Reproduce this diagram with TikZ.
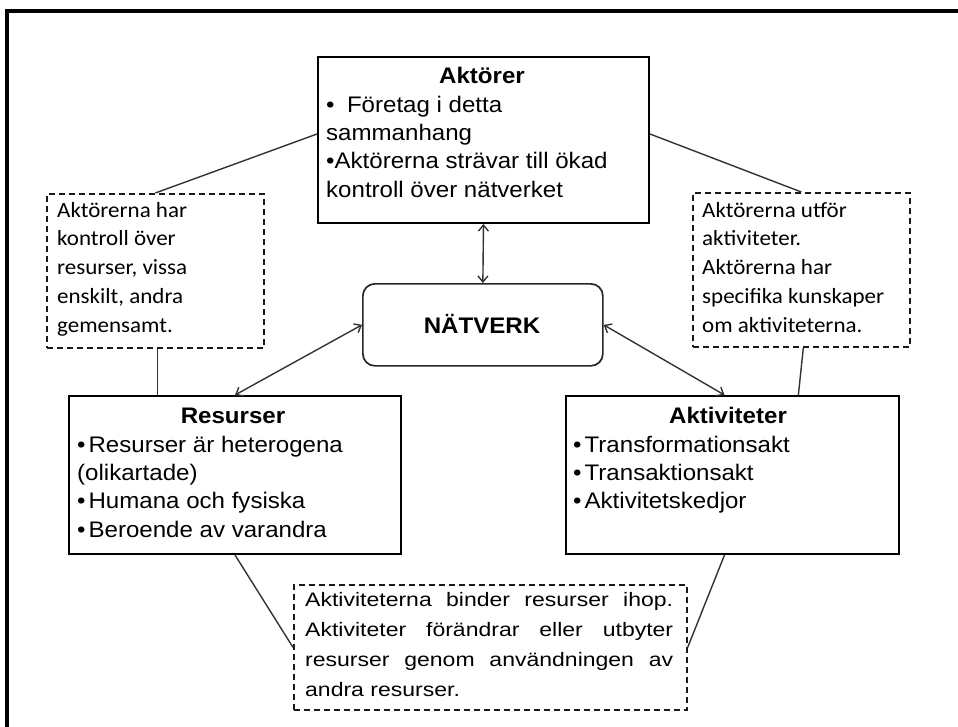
\documentclass[tikz,border=0pt]{standalone}
\usepackage{fontspec}
\setmainfont{Liberation Sans}[FakeStretch=1.07]
\newfontfamily\calfont{Carlito}[FakeStretch=1.06]
\newfontfamily\widefont{Liberation Sans}[FakeStretch=1.18]
\usetikzlibrary{arrows.meta,calc}
\begin{document}
\begin{tikzpicture}[x=1pt,y=-1pt,
  solidbox/.style={draw=black,line width=2pt,inner sep=0pt,anchor=north west},
  dashbox/.style={draw=black!90,line width=1.7pt,dash pattern=on 6pt off 4pt,inner sep=0pt,anchor=north west},
  roundbox/.style={draw=black!85,line width=1.7pt,rounded corners=12pt,inner sep=0pt,anchor=north west},
  txt/.style={inner sep=0pt,font=\fontsize{22.5}{28.4}\selectfont},
  conn/.style={draw=black!80,line width=1.4pt},
  biarrow/.style={conn,{Straight Barb[length=6pt,width=10pt]}-{Straight Barb[length=6pt,width=10pt]}}
]
\useasboundingbox (0,0) rectangle (958,726);
\clip (0,0) rectangle (958,726);

% outer frame, running off the right and bottom edges
\draw[line width=3.2pt] (7,11) rectangle (990,760);

% main boxes
\node[solidbox,minimum width=331pt,minimum height=166pt] (aktorer) at (317,56) {};
\node[roundbox,minimum width=240pt,minimum height=82pt] (natverk) at (362,283) {};
\node[solidbox,minimum width=332pt,minimum height=158pt] (resurser) at (68,395) {};
\node[solidbox,minimum width=333pt,minimum height=158pt] (aktiv) at (565,395) {};

% dashed comment boxes
\node[dashbox,minimum width=217pt,minimum height=154pt] (ldash) at (46,193) {};
\node[dashbox,minimum width=217pt,minimum height=154pt] (rdash) at (692,192) {};
\node[dashbox,minimum width=393pt,minimum height=125pt] (bdash) at (293,584) {};

% headings
\node[txt,anchor=base] (aktorerhead) at (482,83) {\bfseries Aktörer};
\node[txt,anchor=base] (natlabel) at (482,333) {\bfseries NÄTVERK};
\node[txt,anchor=base] (resurserhead) at (233,423) {\bfseries Resurser};
\node[txt,anchor=base] (aktivhead) at (728,423) {\bfseries Aktiviteter};

% box contents
\node[txt,anchor=base west] (aktorertext) at (326,112) {\parbox[t]{310pt}{\fontsize{22.5}{28.4}\selectfont
  •\hspace{0.55em}Företag i detta\\sammanhang\\•Aktörerna strävar till ökad\\kontroll över nätverket}};
\node[txt,anchor=base west] (resursertext) at (77,452) {\parbox[t]{320pt}{\fontsize{22.5}{28.45}\selectfont
  •\hspace{3pt}Resurser är heterogena\\(olikartade)\\•\hspace{3pt}Humana och fysiska\\•\hspace{3pt}Beroende av varandra}};
\node[txt,anchor=base west] (aktivtext) at (573,452) {\parbox[t]{320pt}{\fontsize{22.5}{28.2}\selectfont
  •\hspace{3pt}Transformationsakt\\•\hspace{3pt}Transaktionsakt\\•\hspace{3pt}Aktivitetskedjor}};

% comment texts
\node[txt,anchor=base west] (ldashtext) at (57,217) {\parbox[t]{200pt}{\calfont\fontsize{21.7}{28.75}\selectfont
  Aktörerna har\\kontroll över\\resurser, vissa\\enskilt, andra\\gemensamt.}};
\node[txt,anchor=base west] (rdashtext) at (702,217) {\parbox[t]{200pt}{\calfont\fontsize{21.7}{28.75}\selectfont
  Aktörerna utför\\aktiviteter.\\Aktörerna har\\specifika kunskaper\\om aktiviteterna.}};
\node[txt,anchor=base west] (bdashtext) at (305,606) {\parbox[t]{368pt}{\widefont\fontsize{19.5}{30.3}\selectfont
  \hyphenpenalty=10000 \exhyphenpenalty=10000
  Aktiviteterna binder resurser ihop.\linebreak
  Aktiviteter förändrar eller utbyter\linebreak
  resurser genom användningen av\linebreak
  andra resurser.}};

% connectors between the boxes
\draw[conn] ([yshift=6pt]aktorer.west) -- (ldash.north);
\draw[conn] ([yshift=6pt]aktorer.east) -- (rdash.north);
\draw[conn] ([xshift=2pt]ldash.south) -- ([xshift=2pt]ldash.south |- resurser.north);
\draw[conn] ([xshift=2pt]rdash.south) -- ([xshift=-3pt]rdash.south |- aktiv.north);
\draw[biarrow] (aktorer.south) -- (natverk.north);
\draw[biarrow] (natverk.west) -- (resurser.north);
\draw[biarrow] (natverk.east) -- ([xshift=-8pt]aktiv.north);
\draw[conn] (resurser.south) -- (bdash.west);
\draw[conn] ([xshift=-8pt]aktiv.south) -- (bdash.east);
\end{tikzpicture}
\end{document}
